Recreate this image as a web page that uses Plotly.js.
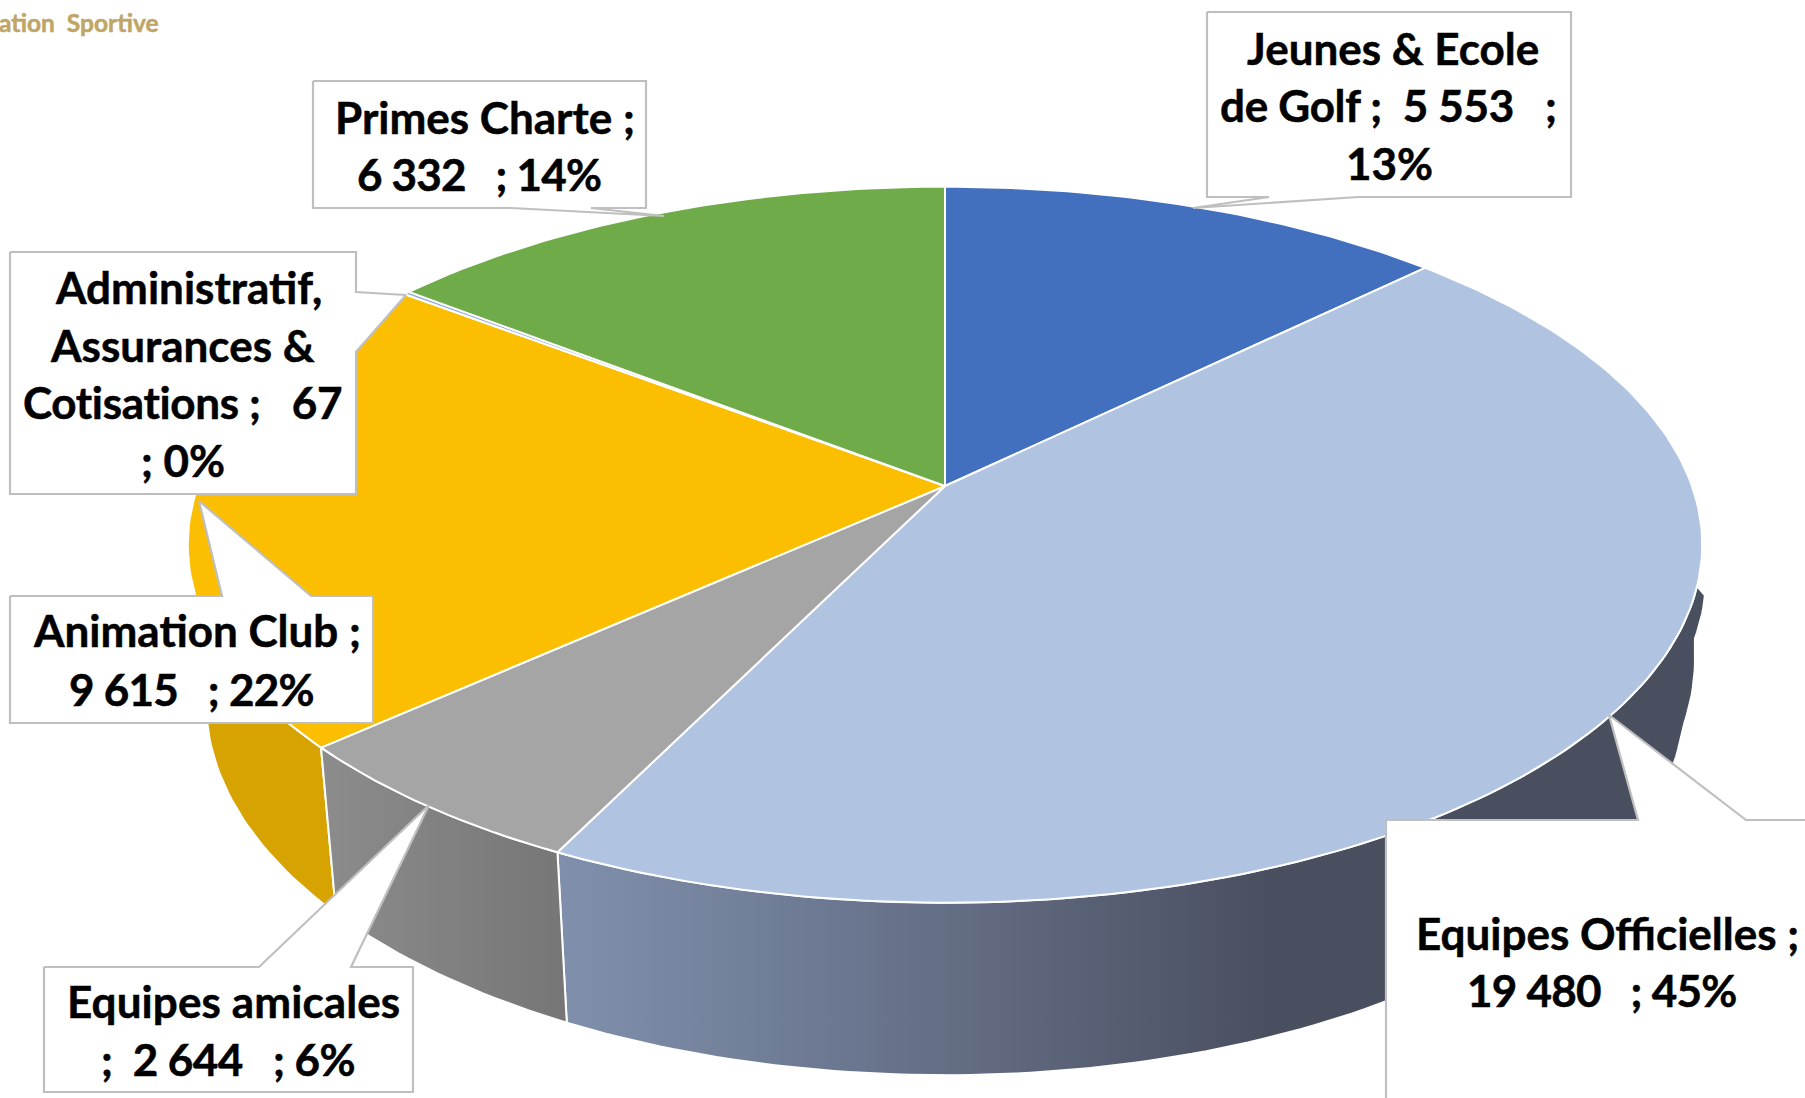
<!DOCTYPE html>
<html><head><meta charset="utf-8">
<script src="https://cdn.plot.ly/plotly-3.0.1.min.js"></script>
<style>html,body{margin:0;padding:0;background:#fff;overflow:hidden}#chart{width:1805px;height:1098px}
.annotation-text{stroke:currentColor;paint-order:stroke}
</style>
</head><body><div id="chart"></div>
<script>
// ---- chart values ----
const categories = ["Jeunes & Ecole de Golf","Equipes Officielles","Equipes amicales","Animation Club","Administratif, Assurances & Cotisations","Primes Charte"];
const values = [5553,19480,2644,9615,67,6332];
const faceColors = ["#4270BF","#B0C4E2","#A5A5A5","#FBBE00","#8FAADC","#6FAB48"];
const sideStops = [
  [[0,"#2E5590"],[1,"#2E5590"]],
  [[0,"#8090AC"],[0.3,"#67728A"],[0.62,"#4A4F60"],[1,"#4A4F60"]],
  [[0,"#8C8C8C"],[1,"#767676"]],
  [[0,"#D6A300"],[1,"#D6A300"]],
  [[0,"#6A80A8"],[1,"#6A80A8"]],
  [[0,"#558236"],[1,"#558236"]]
];
const labelLines = [
  ["Jeunes & Ecole","de Golf ;\u00A0\u00A05 553\u00A0\u00A0\u00A0;","13%"],
  ["Equipes Officielles ;","19 480\u00A0\u00A0\u00A0; 45%"],
  ["Equipes amicales",";\u00A0\u00A02 644\u00A0\u00A0\u00A0; 6%"],
  ["Animation Club ;","9 615\u00A0\u00A0\u00A0; 22%"],
  ["Administratif,","Assurances &","Cotisations ;\u00A0\u00A0\u00A067","; 0%"],
  ["Primes Charte ;","6 332\u00A0\u00A0\u00A0; 14%"]
];
// ---- layout: label centres, tracking and callout outlines (page pixels) ----
const labelX = [[1393,1388,1389],[1607,1602],[233,228],[197,191],[188,182,182,183],[485,479]];
const labelY = [[48,105,163],[933,990],[1001,1059],[630,689],[287,345,402,460],[117,174]];
const labelTracking = [[0,-0.3,0],[0,-0.75],[0.1,-0.55],[0,-0.75],[0,0,-0.33,0],[0,-0.8]];
const calloutX = [
  [1207,1571,1571,1358,1193,1269,1207],
  [1386,1638,1609,1746,1830,1830,1386],
  [44,259,429,351,413,413,44],
  [10,222,199,311,373,373,10],
  [10,356,356,406,356,356,10],
  [313,646,646,591,664,511,313]
];
const calloutY = [
  [12,12,197,197,208,197,197],
  [820,820,715,820,820,1130,1130],
  [967,967,805,967,967,1092,1092],
  [596,596,501,596,596,723,723],
  [252,252,292,295,352,494,494],
  [81,81,208,208,216,208,208]
];
const topPlane = {cx:945, cy:486, a:747, b:348.4};
const bottomPlane = {cx:945, cy:641, a:729, b:363, flank:749, flankBack:260, flankFront:85};
const sideTopLimit = 592;
const perspective = 0.164;

function project(frac, plane){
  const t = 2*Math.PI*frac, X = Math.sin(t), Y = Math.cos(t), w = 1+perspective*Y;
  let a = plane.a;
  if(plane.flank && X>0) a = Y>0 ? plane.flank + plane.flankBack*Y : Math.max(a, plane.flank + plane.flankFront*Y);
  return [plane.cx + a*X/w, plane.cy - plane.b*Y/w];
}
const total = values.reduce((a,b)=>a+b,0);
let cum = 0;
const spans = values.map(v=>{const s=[cum/total,(cum+v)/total];cum+=v;return s;});
function arc(s,plane){
  const n = Math.max(2,Math.ceil((s[1]-s[0])*360));
  const out=[];
  for(let i=0;i<=n;i++) out.push(project(s[0]+(s[1]-s[0])*i/n,plane));
  return out;
}
const traces=[];
// sides: only the slices seen from the front are extruded outwards
[3,1,2].forEach(i=>{
  const bottom = arc(spans[i],bottomPlane).filter(p=>p[1]>=sideTopLimit);
  const top = arc(spans[i],topPlane);
  const pts = top.concat(bottom.reverse());
  pts.push(pts[0]);
  traces.push({type:"scatter",mode:"lines",x:pts.map(p=>p[0]),y:pts.map(p=>p[1]),
    fill:"toself",fillgradient:{type:"horizontal",colorscale:sideStops[i]},
    line:{color:"#FFFFFF",width:2},hoverinfo:"skip",name:categories[i]+" side"});
});
// top faces
values.forEach((v,i)=>{
  const pts=[[topPlane.cx,topPlane.cy]].concat(arc(spans[i],topPlane));
  pts.push(pts[0]);
  traces.push({type:"scatter",mode:"lines",x:pts.map(p=>p[0]),y:pts.map(p=>p[1]),
    fill:"toself",fillcolor:faceColors[i],line:{color:"#FFFFFF",width:2},
    hoverinfo:"skip",name:categories[i]});
});
// callouts
calloutX.forEach((xs,i)=>{
  traces.push({type:"scatter",mode:"lines",x:xs.concat(xs[0]),y:calloutY[i].concat(calloutY[i][0]),
    fill:"toself",fillcolor:"#FFFFFF",line:{color:"#BFBFBF",width:2.2},hoverinfo:"skip",name:categories[i]+" label"});
});
const annotations=[];
labelLines.forEach((lines,i)=>lines.forEach((txt,j)=>{
  const tr = labelTracking[i][j];
  annotations.push({x:labelX[i][j],y:labelY[i][j],xref:"x",yref:"y",
    text: tr ? '<span style="letter-spacing:'+tr+'px">'+txt+'</span>' : txt,
    showarrow:false,xanchor:"center",yanchor:"middle",
    font:{family:"Lato, sans-serif",size:44,color:"#000000",weight:700}});
}));
annotations.push({x:0,y:22,xref:"x",yref:"y",text:"ation\u00A0\u00A0Sportive",showarrow:false,xanchor:"left",yanchor:"middle",
  xshift:-3,font:{family:"Lato, sans-serif",size:24.5,color:"#BFA566",weight:700}});
Plotly.newPlot("chart",traces,{
  width:1805,height:1098,margin:{l:0,r:0,t:0,b:0},showlegend:false,hovermode:false,
  paper_bgcolor:"#FFFFFF",plot_bgcolor:"#FFFFFF",
  xaxis:{range:[0,1805],visible:false,fixedrange:true},
  yaxis:{range:[1098,0],visible:false,fixedrange:true},
  annotations:annotations
},{displayModeBar:false,staticPlot:true}).then(()=>{
  document.querySelectorAll(".annotation-text").forEach(el=>{el.style.stroke="#000";el.style.strokeWidth="0.5px";});
  const all=document.querySelectorAll(".annotation-text"); const g=all[all.length-1]; g.style.stroke="#BFA566";
});
</script></body></html>
